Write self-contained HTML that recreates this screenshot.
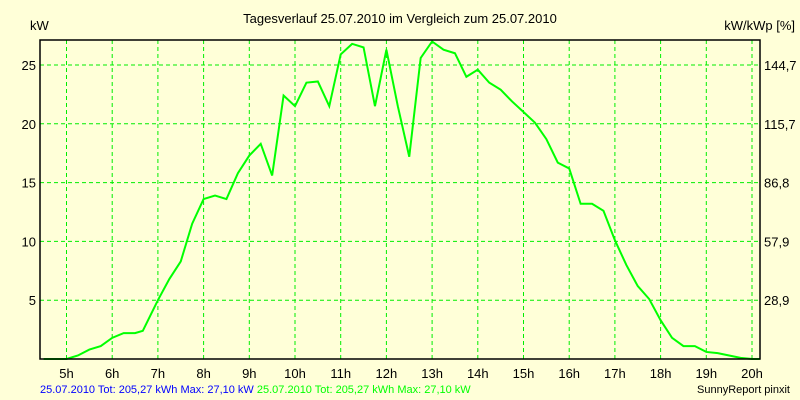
<!DOCTYPE html>
<html><head><meta charset="utf-8"><style>
body{margin:0;background:#ffffd8;}
svg{display:block;font-family:"Liberation Sans",sans-serif;font-size:13px;}
</style></head><body>
<svg id="c" width="800" height="400">
<rect width="800" height="400" fill="#ffffd8"/>
<text x="400" y="23" text-anchor="middle">Tagesverlauf 25.07.2010 im Vergleich zum 25.07.2010</text>
<text x="30" y="30">kW</text>
<text x="795" y="30" text-anchor="end">kW/kWp [%]</text>
<g id="grid"></g>
<g id="labels"></g>
<polyline id="series" fill="none" stroke="#00ff00" stroke-width="2"/>
<rect x="40" y="40" width="720" height="319" fill="none" stroke="#000" stroke-width="1.5"/>
<text x="40" y="393" fill="#0000ff" font-size="11">25.07.2010 Tot: 205,27 kWh Max: 27,10 kW <tspan fill="#00ff00">25.07.2010 Tot: 205,27 kWh Max: 27,10 kW</tspan></text>
<text x="790" y="393" text-anchor="end" font-size="11">SunnyReport pinxit</text>
</svg>
<script>
const hours=[4.5,5,5.25,5.5,5.75,6,6.25,6.5,6.67,7,7.25,7.5,7.75,8,8.25,8.5,8.75,9,9.25,9.5,9.75,10,10.25,10.5,10.75,11,11.25,11.5,11.75,12,12.25,12.5,12.75,13,13.25,13.5,13.75,14,14.25,14.5,14.75,15,15.25,15.5,15.75,16,16.25,16.5,16.75,17,17.25,17.5,17.75,18,18.25,18.5,18.75,19,19.25,19.5,19.75,20,20.17];
const kw=[0,0,0.3,0.8,1.1,1.8,2.2,2.2,2.4,5,6.8,8.3,11.5,13.6,13.9,13.6,15.8,17.3,18.3,15.6,22.4,21.5,23.5,23.6,21.5,25.9,26.8,26.5,21.5,26.3,21.5,17.2,25.6,27.0,26.3,26.0,24.0,24.6,23.5,22.9,21.9,21.0,20.1,18.7,16.7,16.2,13.2,13.2,12.6,10.1,8.0,6.2,5.1,3.3,1.8,1.1,1.1,0.6,0.5,0.3,0.1,0,0];
const yTicks=[5,10,15,20,25];
const rightLabels=["28,9","57,9","86,8","115,7","144,7"];
const xTicks=[5,6,7,8,9,10,11,12,13,14,15,16,17,18,19,20];
const NS="http://www.w3.org/2000/svg";
const xs=h=>66.5+(h-5)*45.7;
const ys=v=>359-v*11.76;
const grid=document.getElementById('grid'),lab=document.getElementById('labels');
function mk(tag,attrs,parent){const e=document.createElementNS(NS,tag);for(const k in attrs)e.setAttribute(k,attrs[k]);parent.appendChild(e);return e;}
xTicks.forEach(h=>{
 const l=mk('line',{x1:xs(h),x2:xs(h),y1:40,y2:359,stroke:'#00ee00','stroke-dasharray':'4,3'},grid);
 
 
 const t=mk('text',{x:xs(h),y:378,'text-anchor':'middle'},lab);t.textContent=h+'h';
 
 
});
yTicks.forEach((v,i)=>{
 const l=mk('line',{x1:40,x2:760,y1:ys(v),y2:ys(v),stroke:'#00ee00','stroke-dasharray':'4,3'},grid);
 
 
 const t=mk('text',{x:36,y:ys(v)+5,'text-anchor':'end'},lab);t.textContent=v;
 
 
 const r=mk('text',{x:764,y:ys(v)+5},lab);r.textContent=rightLabels[i];
 
 
});
document.getElementById('series').setAttribute('points',hours.map((h,i)=>xs(h)+','+ys(kw[i])).join(' '));
</script>
</body></html>
